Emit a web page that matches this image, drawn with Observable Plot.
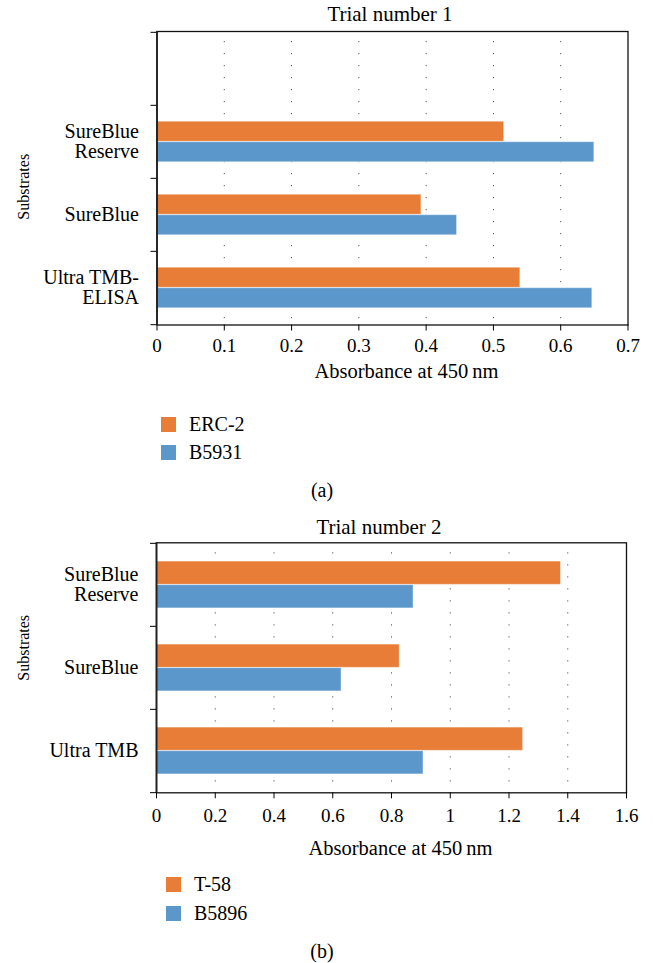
<!DOCTYPE html>
<html><head><meta charset="utf-8">
<script src="https://cdn.jsdelivr.net/npm/d3@7"></script>
<script src="https://cdn.jsdelivr.net/npm/@observablehq/plot@0.6"></script>
<style>
body{margin:0;background:#fff;}
#wrap{position:relative;width:653px;height:963px;font-family:'Liberation Serif',serif;color:#000;overflow:hidden;background:#fff}
#wrap svg, #wrap svg text{font-family:'Liberation Serif',serif !important}
.abs{position:absolute;white-space:nowrap}
.ctr{transform:translate(-50%,-50%)}
.title{font-size:21px}
.leg{font-size:20px;line-height:28px}
.sw{display:inline-block;width:15px;height:15px;vertical-align:-1px;margin-right:13px}
.cap{font-size:20px}
</style></head><body><div id="wrap"></div>
<script>
// ---- data (a) Trial number 1 ----
const substrates1 = ["", "SureBlue\nReserve", "SureBlue", "Ultra TMB-\nELISA"];
const series1 = ["ERC-2", "B5931"];
const erc2 = [null, 0.516, 0.393, 0.540];
const b5931 = [null, 0.650, 0.446, 0.647];
const xTicks1 = [0, 0.1, 0.2, 0.3, 0.4, 0.5, 0.6, 0.7];

// ---- data (b) Trial number 2 ----
const substrates2 = ["SureBlue\nReserve", "SureBlue", "Ultra TMB"];
const series2 = ["T-58", "B5896"];
const t58 = [1.377, 0.828, 1.248];
const b5896 = [0.875, 0.630, 0.909];
const xTicks2 = [0, 0.2, 0.4, 0.6, 0.8, 1, 1.2, 1.4, 1.6];

const colors = ["#E77D37", "#5C97CC"];

function rowsOf(cats, series, vals) {
  const rows = [];
  series.forEach((s, j) => cats.forEach((c, i) => {
    if (vals[j][i] != null) rows.push({substrate: c, series: s, value: vals[j][i]});
  }));
  return rows;
}

function chart(o) {
  const rows = rowsOf(o.cats, o.series, o.vals);
  const plotH = o.height - o.mt - o.mb;
  const bw = plotH / o.cats.length;
  const xmax = o.ticks[o.ticks.length - 1];
  return Plot.plot({
    width: 653, height: o.height,
    marginTop: o.mt, marginBottom: o.mb, marginLeft: o.ml, marginRight: o.mr,
    style: {fontFamily: "'Liberation Serif', serif", fontSize: "20px", background: "transparent", color: "#000", overflow: "visible"},
    x: {domain: [0, xmax]},
    y: {type: "band", domain: o.cats, padding: 0},
    marks: [
      Plot.gridX(o.ticks.filter(t => t > 0 && t < xmax), {stroke: "#555", strokeOpacity: 1, strokeDasharray: "1.2,10.8", strokeDashoffset: -10}),
      Plot.barX(rows.filter(d => d.series === o.series[0]), {x: "value", y: "substrate", fill: colors[0], stroke: "#fff", strokeOpacity: 0.45, strokeWidth: 1, insetTop: bw / 2 - o.barH, insetBottom: bw / 2}),
      Plot.barX(rows.filter(d => d.series === o.series[1]), {x: "value", y: "substrate", fill: colors[1], stroke: "#fff", strokeOpacity: 0.45, strokeWidth: 1, insetTop: bw / 2, insetBottom: bw / 2 - o.barH}),
      Plot.frame({stroke: "#111", strokeWidth: 1.3}),
      Plot.ruleX([0], {stroke: "#222", strokeWidth: 1.8}),
      Plot.axisX({ticks: o.ticks, tickSize: 6, tickPadding: o.tickPad, tickFormat: d => `${d}`, fontSize: 19, label: null}),
      Plot.axisY({tickSize: 0, tickPadding: 18, fontSize: 20, label: null, lineHeight: 1}),
      Plot.axisY({ticks: o.cats, tickSize: 6, tickFormat: () => "", dy: -bw / 2, label: null}),
      Plot.axisY({ticks: [o.cats[o.cats.length - 1]], tickSize: 6, tickFormat: () => "", dy: bw / 2, label: null}),
      Plot.text(["Absorbance at 450\u2009nm"], {frameAnchor: "bottom", textAnchor: "middle", lineAnchor: "middle", dx: o.xlDx, dy: o.xlDy, fontSize: 20.5}),
      Plot.text(["Substrates"], {frameAnchor: "left", textAnchor: "middle", lineAnchor: "middle", rotate: -90, dx: -(o.ml - 23), dy: o.ylDy, fontSize: 16})
    ]
  });
}

const wrap = document.getElementById("wrap");
function add(html, css, cls) {
  const d = document.createElement("div");
  d.className = "abs " + (cls || "");
  Object.assign(d.style, css);
  d.innerHTML = html;
  wrap.appendChild(d);
  return d;
}

// (a)
add("Trial number 1", {left: "390px", top: "14px"}, "ctr title");
const c1 = chart({cats: substrates1, series: series1, vals: [erc2, b5931], ticks: xTicks1,
  height: 370, mt: 7, mb: 69.5, ml: 156.5, mr: 25.5, barH: 20.5, tickPad: 7, xlDx: 14, xlDy: 46, ylDy: 8.5});
const s1 = add("", {left: "0px", top: "24px"});
s1.appendChild(c1);
series1.forEach((s, j) => add(`<span class="sw" style="background:${colors[j]}"></span>${s}`, {left: "161px", top: (409.5 + 28 * j) + "px"}, "leg"));
add("(a)", {left: "322px", top: "490px"}, "ctr cap");

// (b)
add("Trial number 2", {left: "379px", top: "527px"}, "ctr title");
const c2 = chart({cats: substrates2, series: series2, vals: [t58, b5896], ticks: xTicks2,
  height: 328, mt: 8.3, mb: 69.7, ml: 156, mr: 27, barH: 23.6, tickPad: 10, xlDx: 9, xlDy: 56, ylDy: -20});
const s2 = add("", {left: "0px", top: "534px"});
s2.appendChild(c2);
series2.forEach((s, j) => add(`<span class="sw" style="background:${colors[j]}"></span>${s}`, {left: "166px", top: (869.5 + 29 * j) + "px"}, "leg"));
add("(b)", {left: "322px", top: "951px"}, "ctr cap");
</script></body></html>
